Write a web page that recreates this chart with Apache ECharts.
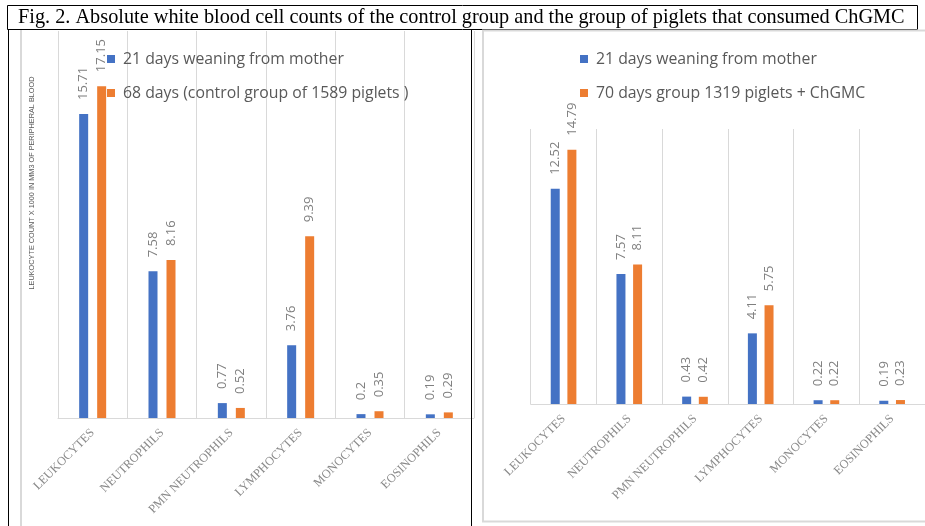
<!DOCTYPE html>
<html><head><meta charset="utf-8">
<script src="https://cdn.jsdelivr.net/npm/echarts@6/dist/echarts.min.js"></script>
<style>html,body{margin:0;padding:0;background:#fff}#c{width:925px;height:526px}</style>
</head><body><div id="c"></div>
<script>
const titleText = "Fig. 2. Absolute white blood cell counts of the control group and the group of piglets that consumed ChGMC";
const yAxisTitle = "LEUKOCYTE COUNT X 1000 IN MM3 OF PERIPHERAL BLOOD";
const categories = ["LEUKOCYTES", "NEUTROPHILS", "PMN NEUTROPHILS", "LYMPHOCYTES", "MONOCYTES", "EOSINOPHILS"];
const nameWeaning = "21 days weaning from mother";
const nameControl = "68 days (control group of 1589 piglets )";
const nameChGMC = "70 days group 1319 piglets + ChGMC";
const controlWeaning = [15.71, 7.58, 0.77, 3.76, 0.2, 0.19];
const control68 = [17.15, 8.16, 0.52, 9.39, 0.35, 0.29];
const chgmcWeaning = [12.52, 7.57, 0.43, 4.11, 0.22, 0.19];
const chgmc70 = [14.79, 8.11, 0.42, 5.75, 0.22, 0.23];

const BLUE = '#4472C4', ORANGE = '#ED7D31', GRID = '#d9d9d9', LABEL = '#7f7f7f';

function xAxisCfg(gi) {
  return {
    type: 'category', gridIndex: gi, data: categories,
    axisTick: { show: false },
    axisLine: { lineStyle: { color: GRID } },
    splitLine: { show: true, lineStyle: { color: GRID } },
    axisLabel: { rotate: 45, interval: 0, margin: 13, color: '#8a8a8a', fontFamily: 'Liberation Serif', fontSize: 12.3 }
  };
}
function yAxisCfg(gi, max) {
  return { type: 'value', gridIndex: gi, min: 0, max: max, show: false, splitLine: { show: false } };
}
function barCfg(name, data, gi, color, gap) {
  return {
    type: 'bar', name: name, data: data, xAxisIndex: gi, yAxisIndex: gi,
    barWidth: 9, barGap: gap, itemStyle: { color: color },
    label: { show: true, position: 'top', rotate: 90, align: 'left', verticalAlign: 'middle', distance: 14,
      color: LABEL, fontSize: 13, fontFamily: 'Open Sans' }
  };
}
function legendCfg(left, names) {
  return {
    data: names, left: left, top: 45, orient: 'vertical', icon: 'rect',
    itemWidth: 8, itemHeight: 8, itemGap: 16,
    textStyle: { fontSize: 15.8, color: '#595959', fontFamily: 'Open Sans', lineHeight: 18, padding: [0, 0, 0, 3] }
  };
}

const chart = echarts.init(document.getElementById('c'), null, { renderer: 'canvas' });
chart.setOption({
  animation: false,
  backgroundColor: '#fff',
  grid: [
    { left: 58, top: 31, width: 416, height: 387 },
    { left: 530.7, top: 129, width: 405, height: 275 }
  ],
  xAxis: [xAxisCfg(0), xAxisCfg(1)],
  yAxis: [yAxisCfg(0, 20), yAxisCfg(1, 16)],
  legend: [legendCfg(102, [nameWeaning, nameControl]), legendCfg(575, [nameWeaning, nameChGMC])],
  series: [
    barCfg(nameWeaning, controlWeaning, 0, BLUE, '100%'),
    barCfg(nameControl, control68, 0, ORANGE, '100%'),
    barCfg(nameWeaning, chgmcWeaning, 1, BLUE, '85%'),
    barCfg(nameChGMC, chgmc70, 1, ORANGE, '85%')
  ],
  graphic: [
    { type: 'rect', z: 100, shape: { x: 7.5, y: 5.5, width: 910, height: 24 }, style: { fill: 'none', stroke: '#000', lineWidth: 1 } },
    { type: 'text', z: 100, x: 18, y: 18, style: { text: titleText, fontFamily: 'Liberation Serif', fontSize: 20.3, fill: '#000', align: 'left', verticalAlign: 'middle' } },
    { type: 'line', z: 100, shape: { x1: 8.5, y1: 29, x2: 8.5, y2: 526 }, style: { stroke: '#000', lineWidth: 1 } },
    { type: 'line', z: 100, shape: { x1: 471.5, y1: 29, x2: 471.5, y2: 526 }, style: { stroke: '#000', lineWidth: 1 } },
    { type: 'line', z: 100, shape: { x1: 21, y1: 30, x2: 21, y2: 526 }, style: { stroke: GRID, lineWidth: 2 } },
    { type: 'rect', z: 100, shape: { x: 483, y: 30.5, width: 500, height: 491 }, style: { fill: 'none', stroke: GRID, lineWidth: 2 } },
    { type: 'text', z: 100, x: 32, y: 183, rotation: Math.PI / 2, style: { text: yAxisTitle, fontFamily: 'Liberation Sans', fontSize: 7.3, fill: '#595959', align: 'center', verticalAlign: 'middle' } }
  ]
});
</script>
</body></html>
